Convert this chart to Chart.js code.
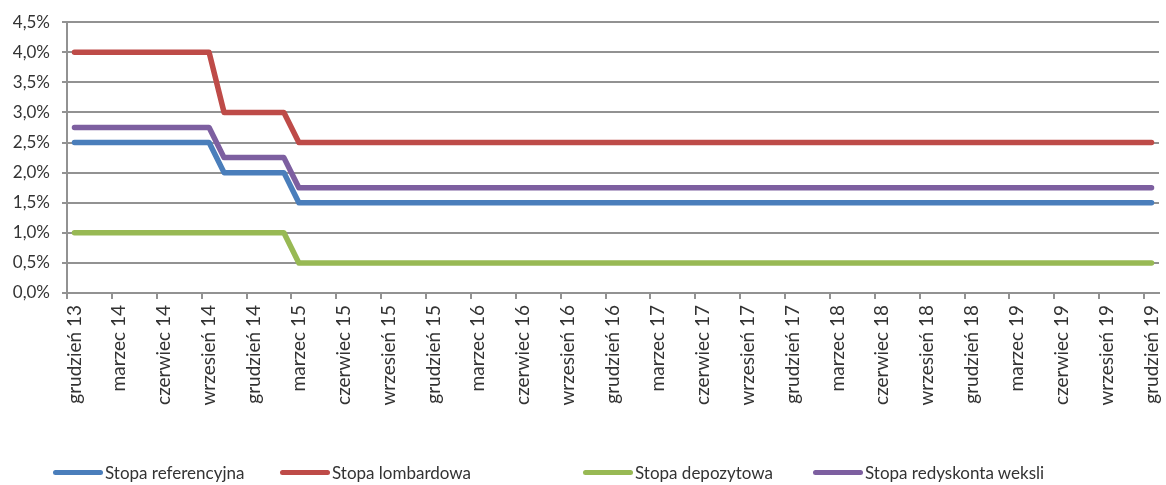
<!DOCTYPE html>
<html lang="pl">
<head>
<meta charset="utf-8">
<script src="https://cdn.jsdelivr.net/npm/chart.js@4.4.1/dist/chart.umd.min.js"></script>
<style>
  html, body { margin: 0; padding: 0; background: #fff; }
  #wrap { position: relative; width: 1166px; height: 485px; }
  #legenda { position: absolute; left: 0; top: 462px; width: 1166px; height: 22px; font: 17px Lato, sans-serif; color: #333; }
  #legenda .item { position: absolute; top: 0; display: flex; align-items: center; white-space: nowrap; }
  #legenda .kreska { width: 50px; height: 5px; border-radius: 3px; margin-right: 2px; }
</style>
</head>
<body>
<div id="wrap">
  <canvas id="chartStopy"></canvas>
  <div id="legenda"></div>
</div>
<script>
// Stopy procentowe NBP, miesięcznie od grudnia 2013 do grudnia 2019 (w %).
const MIESIACE = ['styczeń', 'luty', 'marzec', 'kwiecień', 'maj', 'czerwiec', 'lipiec', 'sierpień', 'wrzesień', 'październik', 'listopad', 'grudzień'];
const etykiety = ['grudzień 13'];
for (let r = 14; r <= 19; r++) MIESIACE.forEach((m) => etykiety.push(`${m} ${r}`));

const stopaReferencyjna = [
  2.5,
  2.5, 2.5, 2.5, 2.5, 2.5, 2.5, 2.5, 2.5, 2.5, 2.0, 2.0, 2.0,
  2.0, 2.0, 1.5, 1.5, 1.5, 1.5, 1.5, 1.5, 1.5, 1.5, 1.5, 1.5,
  1.5, 1.5, 1.5, 1.5, 1.5, 1.5, 1.5, 1.5, 1.5, 1.5, 1.5, 1.5,
  1.5, 1.5, 1.5, 1.5, 1.5, 1.5, 1.5, 1.5, 1.5, 1.5, 1.5, 1.5,
  1.5, 1.5, 1.5, 1.5, 1.5, 1.5, 1.5, 1.5, 1.5, 1.5, 1.5, 1.5,
  1.5, 1.5, 1.5, 1.5, 1.5, 1.5, 1.5, 1.5, 1.5, 1.5, 1.5, 1.5,
];
const stopaLombardowa = [
  4.0,
  4.0, 4.0, 4.0, 4.0, 4.0, 4.0, 4.0, 4.0, 4.0, 3.0, 3.0, 3.0,
  3.0, 3.0, 2.5, 2.5, 2.5, 2.5, 2.5, 2.5, 2.5, 2.5, 2.5, 2.5,
  2.5, 2.5, 2.5, 2.5, 2.5, 2.5, 2.5, 2.5, 2.5, 2.5, 2.5, 2.5,
  2.5, 2.5, 2.5, 2.5, 2.5, 2.5, 2.5, 2.5, 2.5, 2.5, 2.5, 2.5,
  2.5, 2.5, 2.5, 2.5, 2.5, 2.5, 2.5, 2.5, 2.5, 2.5, 2.5, 2.5,
  2.5, 2.5, 2.5, 2.5, 2.5, 2.5, 2.5, 2.5, 2.5, 2.5, 2.5, 2.5,
];
const stopaDepozytowa = [
  1.0,
  1.0, 1.0, 1.0, 1.0, 1.0, 1.0, 1.0, 1.0, 1.0, 1.0, 1.0, 1.0,
  1.0, 1.0, 0.5, 0.5, 0.5, 0.5, 0.5, 0.5, 0.5, 0.5, 0.5, 0.5,
  0.5, 0.5, 0.5, 0.5, 0.5, 0.5, 0.5, 0.5, 0.5, 0.5, 0.5, 0.5,
  0.5, 0.5, 0.5, 0.5, 0.5, 0.5, 0.5, 0.5, 0.5, 0.5, 0.5, 0.5,
  0.5, 0.5, 0.5, 0.5, 0.5, 0.5, 0.5, 0.5, 0.5, 0.5, 0.5, 0.5,
  0.5, 0.5, 0.5, 0.5, 0.5, 0.5, 0.5, 0.5, 0.5, 0.5, 0.5, 0.5,
];
const stopaRedyskonta = [
  2.75,
  2.75, 2.75, 2.75, 2.75, 2.75, 2.75, 2.75, 2.75, 2.75, 2.25, 2.25, 2.25,
  2.25, 2.25, 1.75, 1.75, 1.75, 1.75, 1.75, 1.75, 1.75, 1.75, 1.75, 1.75,
  1.75, 1.75, 1.75, 1.75, 1.75, 1.75, 1.75, 1.75, 1.75, 1.75, 1.75, 1.75,
  1.75, 1.75, 1.75, 1.75, 1.75, 1.75, 1.75, 1.75, 1.75, 1.75, 1.75, 1.75,
  1.75, 1.75, 1.75, 1.75, 1.75, 1.75, 1.75, 1.75, 1.75, 1.75, 1.75, 1.75,
  1.75, 1.75, 1.75, 1.75, 1.75, 1.75, 1.75, 1.75, 1.75, 1.75, 1.75, 1.75,
];

const SERIE = [
  { nazwa: 'Stopa referencyjna', dane: stopaReferencyjna, kolor: '#4a7ebb' },
  { nazwa: 'Stopa lombardowa', dane: stopaLombardowa, kolor: '#be4b48' },
  { nazwa: 'Stopa depozytowa', dane: stopaDepozytowa, kolor: '#98b954' },
  { nazwa: 'Stopa redyskonta weksli', dane: stopaRedyskonta, kolor: '#7d5fa0' },
];
const LEGENDA_X = [53, 280, 583, 813];

const SZARY = '#929292';
const FONT = 'Lato, sans-serif';

new Chart(document.getElementById('chartStopy'), {
  type: 'line',
  data: {
    labels: etykiety,
    datasets: SERIE.map((s) => ({
      label: s.nazwa,
      data: s.dane,
      borderColor: s.kolor,
      backgroundColor: s.kolor,
      borderWidth: 5.5,
      borderCapStyle: 'round',
      borderJoinStyle: 'round',
      pointRadius: 0,
      tension: 0,
    })),
  },
  options: {
    responsive: true,
    maintainAspectRatio: false,
    animation: false,
    layout: { padding: { top: 18, right: 7, bottom: 0, left: 0 } },
    plugins: { legend: { display: false }, tooltip: { enabled: false } },
    scales: {
      x: {
        offset: true,
        grid: {
          offset: true,
          drawOnChartArea: false,
          tickLength: 6,
          lineWidth: 2,
          tickColor: (ctx) => (ctx.index !== undefined && ctx.index % 3 === 0 ? SZARY : 'rgba(0,0,0,0)'),
        },
        border: { color: SZARY, width: 2 },
        ticks: {
          autoSkip: false,
          minRotation: 90,
          maxRotation: 90,
          padding: 6,
          color: '#333',
          font: { family: FONT, size: 19 },
          callback: (v, i) => (i % 3 === 0 ? etykiety[i] : ''),
        },
        // obrócone etykiety nie mają wystawać poza obszar, więc bez dodatkowego marginesu
        afterFit: (s) => { s.height = 192; s.paddingLeft = 0; s.paddingRight = 0; },
      },
      y: {
        min: 0,
        max: 4.5,
        grid: { color: SZARY, lineWidth: 2, tickLength: 5 },
        border: { color: SZARY, width: 2 },
        ticks: {
          stepSize: 0.5,
          padding: 12,
          color: '#333',
          font: { family: FONT, size: 17 },
          callback: (v) => `${v.toFixed(1).replace('.', ',')}%`,
        },
        afterFit: (s) => { s.width = 67; },
      },
    },
  },
});

// Legenda w HTML, pozycje jak w oryginale (Excel rozkłada wpisy nierówno).
const legenda = document.getElementById('legenda');
SERIE.forEach((s, i) => {
  const el = document.createElement('div');
  el.className = 'item';
  el.style.left = LEGENDA_X[i] + 'px';
  el.innerHTML = `<span class="kreska" style="background:${s.kolor}"></span><span>${s.nazwa}</span>`;
  legenda.appendChild(el);
});
</script>
</body>
</html>
